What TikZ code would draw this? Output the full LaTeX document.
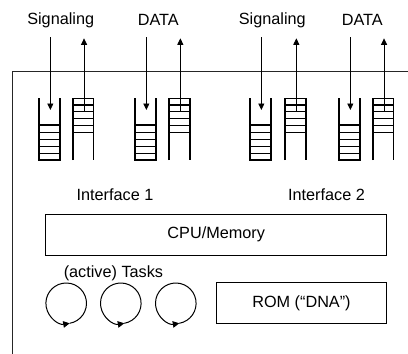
\documentclass[tikz,border=0pt]{standalone}
\usepackage{fontspec}
\setmainfont{Liberation Sans}
\usetikzlibrary{arrows.meta,calc}
\begin{document}
\begin{tikzpicture}[x=1bp,y=-1bp,
  font=\fontsize{16.3}{19}\selectfont,
  lbl/.style={inner sep=0pt, anchor=center},
  frame/.style={draw=black!85, line width=1bp},
  wall/.style={draw=black, line width=1.6bp},
  rung/.style={draw=black, line width=1.4bp},
  flow/.style={draw=black, line width=0.8bp, -{Triangle[length=6.5bp,width=6bp]}},
  box/.style={draw=black, line width=0.9bp, inner sep=0pt},
  task/.style={draw=black, line width=1bp, -{Triangle[length=6.5bp,width=6.5bp]}}]
\useasboundingbox (0,0) rectangle (408,354);

% device outline
\draw[frame] (12.3,354) -- (12.3,71) -- (408,71);

% queue pairs: incoming (signalling) queue filled from the bottom,
% outgoing (data) queue filled from the top
\def\qw{20.7}
\foreach \sx/\dx/\lx/\tag in {39/72.7/60.7/a, 135/169/158.3/b, 250/285/272.3/c, 339/372.7/362.3/d}{
  % incoming queue
  \draw[wall] (\sx,98.3) -- (\sx,160) -- (\sx+\qw,160) -- (\sx+\qw,98.3);
  \foreach \y in {125,132.3,139.3,146.3,153.3}
    \draw[rung] (\sx,\y) -- (\sx+\qw,\y);
  \coordinate (in-\tag-top) at (\sx+\qw/2+1,37);
  \coordinate (in-\tag-end) at (\sx+\qw/2+1,110);
  \draw[flow] (in-\tag-top) -- (in-\tag-end);
  % outgoing queue
  \draw[wall] (\dx,160) -- (\dx,98.3) -- (\dx+\qw,98.3) -- (\dx+\qw,160);
  \foreach \y in {105,111.7,118.3,125.7,132.3}
    \draw[rung] (\dx,\y) -- (\dx+\qw,\y);
  \coordinate (out-\tag-start) at (\dx+\qw/2+1,111.7);
  \coordinate (out-\tag-top) at (\dx+\qw/2+1,38.3);
  \draw[flow] (out-\tag-start) -- (out-\tag-top);
}

% stream labels
\node[lbl] (sig1)  at (60.7,20)  {Signaling};
\node[lbl] (data1) at (158.3,20) {DATA};
\node[lbl] (sig2)  at (272.3,20) {Signaling};
\node[lbl] (data2) at (362.3,20) {DATA};

% interface labels
\node[lbl] (if1) at (115,195)   {Interface 1};
\node[lbl] (if2) at (326.5,195) {Interface 2};

% processing unit and fixed memory
\node[box, minimum width=341bp, minimum height=40.7bp] (cpu) at (216.2,234.7) {CPU/Memory};
\node[box, minimum width=170.4bp, minimum height=40.6bp] (rom) at (301.5,303) {ROM (\textquotedblleft DNA\textquotedblright)};

% running tasks
\node[lbl] (tasks) at (113.4,273) {(active) Tasks};
\foreach \cx/\n in {66.2/1, 120.8/2, 175.8/3}{
  \coordinate (t\n) at (\cx,303.3);
  \draw[task] ($(t\n)+(80:20.3)$) arc[start angle=440, end angle=80, radius=20.3];
}
\end{tikzpicture}
\end{document}
